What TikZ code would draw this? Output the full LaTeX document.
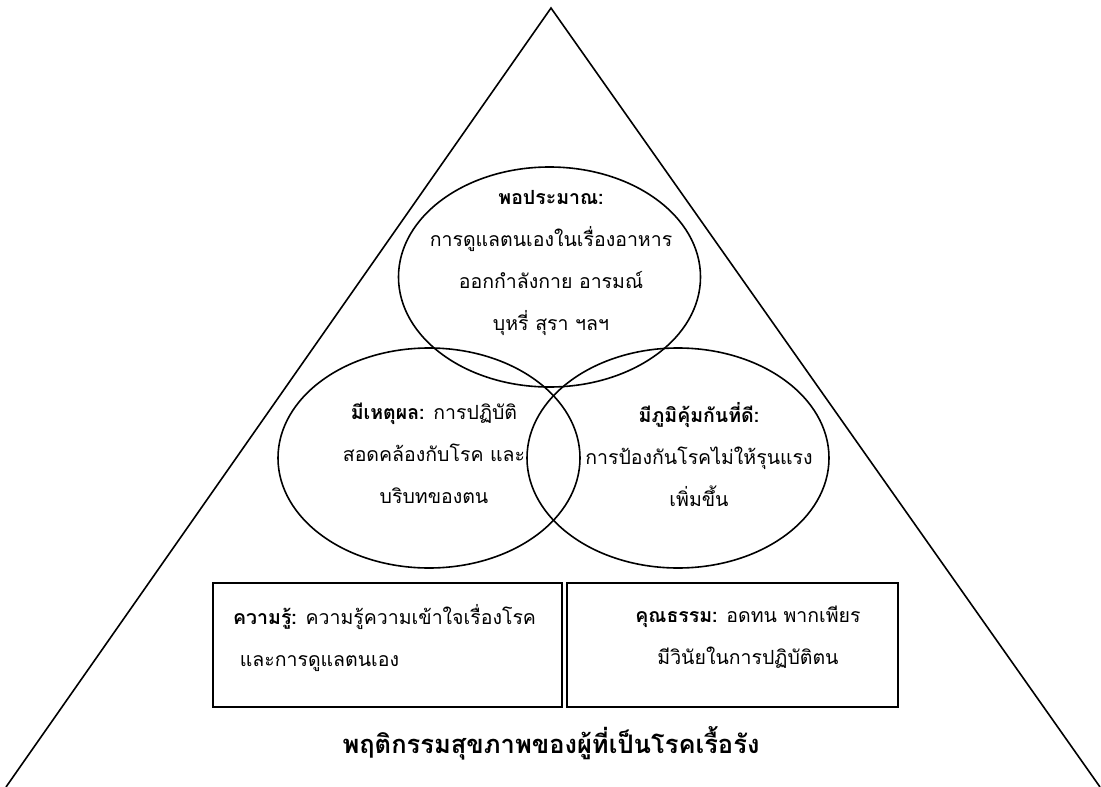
\documentclass[tikz,border=0pt]{standalone}
\usepackage{fontspec}
\newfontfamily\thai[Script=Thai]{Loma}
\usetikzlibrary{shapes.geometric}
\begin{document}
\begin{tikzpicture}[x=1pt,y=-1pt,
  oval/.style={draw, ellipse, line width=1.6pt, minimum width=302pt, minimum height=220pt, inner sep=0pt},
  boxframe/.style={draw, line width=1.6pt, inner sep=0pt, minimum height=124pt},
  body/.style={font=\thai\fontsize{19.5}{42}\selectfont, inner sep=0pt},
  heading/.style={font=\thai\bfseries\fontsize{25.5}{30}\selectfont, inner sep=0pt}]
\useasboundingbox (0,0) rectangle (1101,787);
\coordinate (apex) at (551,8);
\coordinate (bl) at (6,787);
\coordinate (br) at (1100,787);
\draw[line width=1.6pt] (bl) -- (apex) -- (br);

\node[oval] (top) at (549.5,277) {};
\node[oval] (left) at (429,458) {};
\node[oval] (right) at (678,458) {};

\node[body, align=center] (toptxt) at (551,263) {\textbf{พอประมาณ:}\\การดูแลตนเองในเรื่องอาหาร\\ออกกำลังกาย อารมณ์\\บุหรี่ สุรา ฯลฯ};
\node[body, align=center] (lefttxt) at (434,453) {\textbf{มีเหตุผล:} การปฏิบัติ\\สอดคล้องกับโรค และ\\บริบทของตน};
\node[body, align=center] (righttxt) at (699,455) {\textbf{มีภูมิคุ้มกันที่ดี:}\\การป้องกันโรคไม่ให้รุนแรง\\เพิ่มขึ้น};

\node[boxframe, minimum width=349pt] (kbox) at (387.5,645) {};
\node[boxframe, minimum width=331pt] (vbox) at (732.5,645) {};
\node[body, align=left, anchor=west] (ktxt) at (233,638) {\textbf{ความรู้:} ความรู้ความเข้าใจเรื่องโรค\\\ และการดูแลตนเอง};
\node[body, align=center] (vtxt) at (748,637) {\textbf{คุณธรรม:} อดทน พากเพียร\\มีวินัยในการปฏิบัติตน};

\node[heading] (title) at (551,743) {พฤติกรรมสุขภาพของผู้ที่เป็นโรคเรื้อรัง};
\end{tikzpicture}
\end{document}
